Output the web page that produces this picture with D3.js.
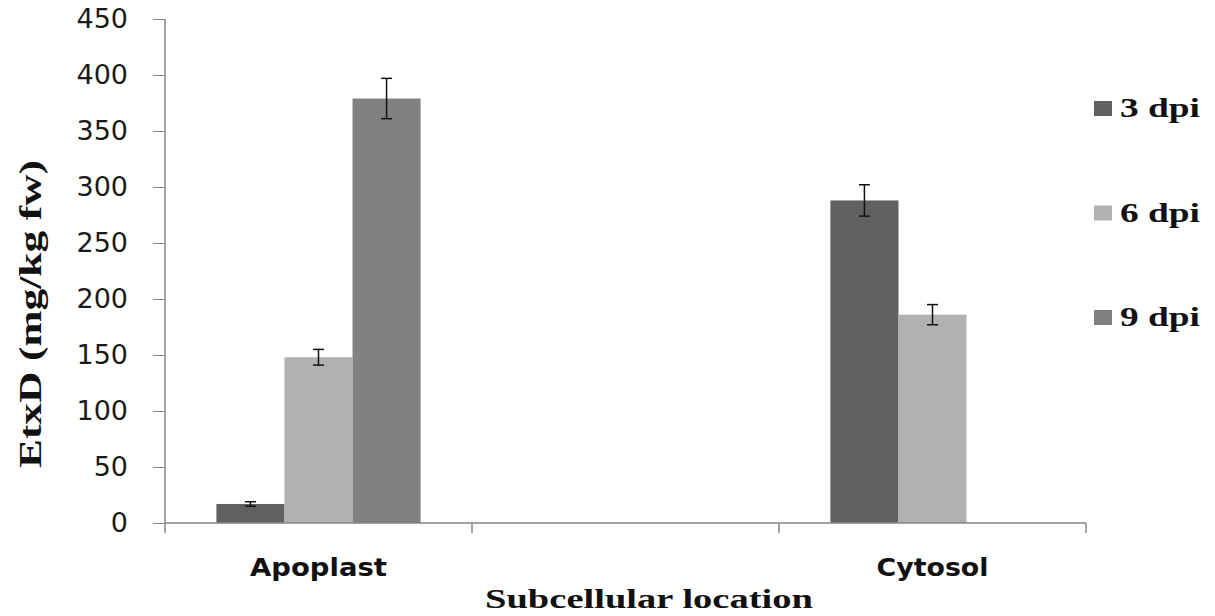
<!DOCTYPE html>
<html>
<head>
<meta charset="utf-8">
<script src="https://cdn.jsdelivr.net/npm/d3@7"></script>
<style>
body { margin: 0; background: #fff; }
</style>
</head>
<body>
<svg id="graph1"></svg>
<script>
// data
var categories = ["Apoplast", "", "Cytosol"]
var seriesNames = ["3 dpi", "6 dpi", "9 dpi"]
var values3 = [17, null, 288]
var values6 = [148, null, 186]
var values9 = [379, null, null]
var errors3 = [2, null, 14]
var errors6 = [7, null, 9]
var errors9 = [18, null, null]
var yTicks = [0, 50, 100, 150, 200, 250, 300, 350, 400, 450]
var colors = ["#616161", "#b1b1b1", "#818181"]

var serif = "'Liberation Serif', 'Times New Roman', serif"

var screen = {width: 1215, height: 616}
var margins = {left: 165, right: 129, top: 19, bottom: 93}
var graph = {
    width: screen.width - margins.left - margins.right,
    height: screen.height - margins.top - margins.bottom
}

var svg = d3.select("#graph1")
    .attr("width", screen.width)
    .attr("height", screen.height)

var target = svg.append("g")
    .attr("transform", "translate(" + margins.left + "," + margins.top + ")")

var xScale = d3.scaleBand()
    .domain(categories)
    .range([0, graph.width])
    .paddingInner(0)
    .paddingOuter(0)

var innerScale = d3.scaleBand()
    .domain(seriesNames)
    .range([0, xScale.bandwidth()])
    .paddingInner(0)
    .paddingOuter(0.755)

var yScale = d3.scaleLinear()
    .domain([0, 450])
    .range([graph.height, 0])

var allValues = [values3, values6, values9]
var allErrors = [errors3, errors6, errors9]

var rows = []
seriesNames.forEach(function (s, i) {
    categories.forEach(function (c, j) {
        if (allValues[i][j] != null) {
            rows.push({series: s, cat: c, value: allValues[i][j], err: allErrors[i][j], color: colors[i]})
        }
    })
})

// bars
target.append("g").selectAll("rect")
    .data(rows)
    .enter()
    .append("rect")
    .attr("x", function (d) { return xScale(d.cat) + innerScale(d.series) })
    .attr("y", function (d) { return yScale(d.value) })
    .attr("width", innerScale.bandwidth())
    .attr("height", function (d) { return graph.height - yScale(d.value) })
    .attr("fill", function (d) { return d.color })

// axes
var yAxis = d3.axisLeft(yScale).tickValues(yTicks).tickSize(12).tickPadding(25)
var yg = target.append("g").call(yAxis)
yg.select(".domain").remove()
yg.selectAll("line").attr("stroke", "#868686")
yg.selectAll("text")
    .attr("font-family", "DejaVu Sans")
    .attr("font-size", 27)
    .attr("fill", "#1a1a1a")

target.append("line")
    .attr("x1", 0).attr("x2", 0)
    .attr("y1", 0).attr("y2", graph.height + 10)
    .attr("stroke", "#868686").attr("stroke-width", 1.5)

var xg = target.append("g")
    .attr("transform", "translate(0," + graph.height + ")")
xg.append("line")
    .attr("x1", 0).attr("x2", graph.width)
    .attr("stroke", "#868686").attr("stroke-width", 1.5)
xg.selectAll(".ctick")
    .data(categories.slice(1).concat(["end"]))
    .enter()
    .append("line")
    .attr("x1", function (d, i) { return xScale.step() * (i + 1) })
    .attr("x2", function (d, i) { return xScale.step() * (i + 1) })
    .attr("y1", 0).attr("y2", 10)
    .attr("stroke", "#868686").attr("stroke-width", 1.5)
xg.selectAll(".clabel")
    .data(categories.filter(function (c) { return c !== "" }))
    .enter()
    .append("text")
    .attr("x", function (d) { return xScale(d) + xScale.bandwidth() / 2 })
    .attr("y", 53)
    .attr("text-anchor", "middle")
    .attr("font-family", "DejaVu Sans")
    .attr("font-weight", "bold")
    .attr("font-size", 25)
    .attr("textLength", function (d) { return d === "Apoplast" ? 137 : 112 })
    .attr("lengthAdjust", "spacingAndGlyphs")
    .attr("fill", "#111")
    .text(function (d) { return d })

// error bars
var errG = target.append("g")
rows.forEach(function (d) {
    var cx = xScale(d.cat) + innerScale(d.series) + innerScale.bandwidth() / 2
    var top = yScale(d.value + d.err), bot = yScale(d.value - d.err)
    errG.append("line").attr("x1", cx).attr("x2", cx).attr("y1", top).attr("y2", bot)
        .attr("stroke", "#111").attr("stroke-width", 1.5)
    errG.append("line").attr("x1", cx - 5.5).attr("x2", cx + 5.5).attr("y1", top).attr("y2", top)
        .attr("stroke", "#111").attr("stroke-width", 1.5)
    errG.append("line").attr("x1", cx - 5.5).attr("x2", cx + 5.5).attr("y1", bot).attr("y2", bot)
        .attr("stroke", "#111").attr("stroke-width", 1.5)
})

// axis titles
svg.append("text")
    .attr("x", 649)
    .attr("y", 608)
    .attr("text-anchor", "middle")
    .attr("font-family", serif)
    .attr("font-weight", "bold")
    .attr("font-size", 28)
    .attr("textLength", 328)
    .attr("lengthAdjust", "spacingAndGlyphs")
    .attr("fill", "#111")
    .text("Subcellular  location")

svg.append("g")
    .attr("transform", "translate(41,314)")
    .append("text")
    .attr("transform", "rotate(270)")
    .attr("text-anchor", "middle")
    .attr("font-family", serif)
    .attr("font-weight", "bold")
    .attr("font-size", 32)
    .attr("textLength", 308)
    .attr("lengthAdjust", "spacingAndGlyphs")
    .attr("fill", "#111")
    .text("EtxD (mg/kg fw)")

// legend
var legend = svg.append("g").attr("transform", "translate(1094,101)")
var items = legend.selectAll("g")
    .data(seriesNames)
    .enter()
    .append("g")
    .attr("transform", function (d, i) { return "translate(0," + (i * 104.5) + ")" })
items.append("rect")
    .attr("width", 18).attr("height", 15)
    .attr("fill", function (d, i) { return colors[i] })
items.append("text")
    .attr("x", 26)
    .attr("y", 16)
    .attr("font-family", serif)
    .attr("font-weight", "bold")
    .attr("font-size", 27)
    .attr("textLength", 80)
    .attr("lengthAdjust", "spacingAndGlyphs")
    .attr("fill", "#111")
    .text(function (d) { return d })
</script>
</body>
</html>
